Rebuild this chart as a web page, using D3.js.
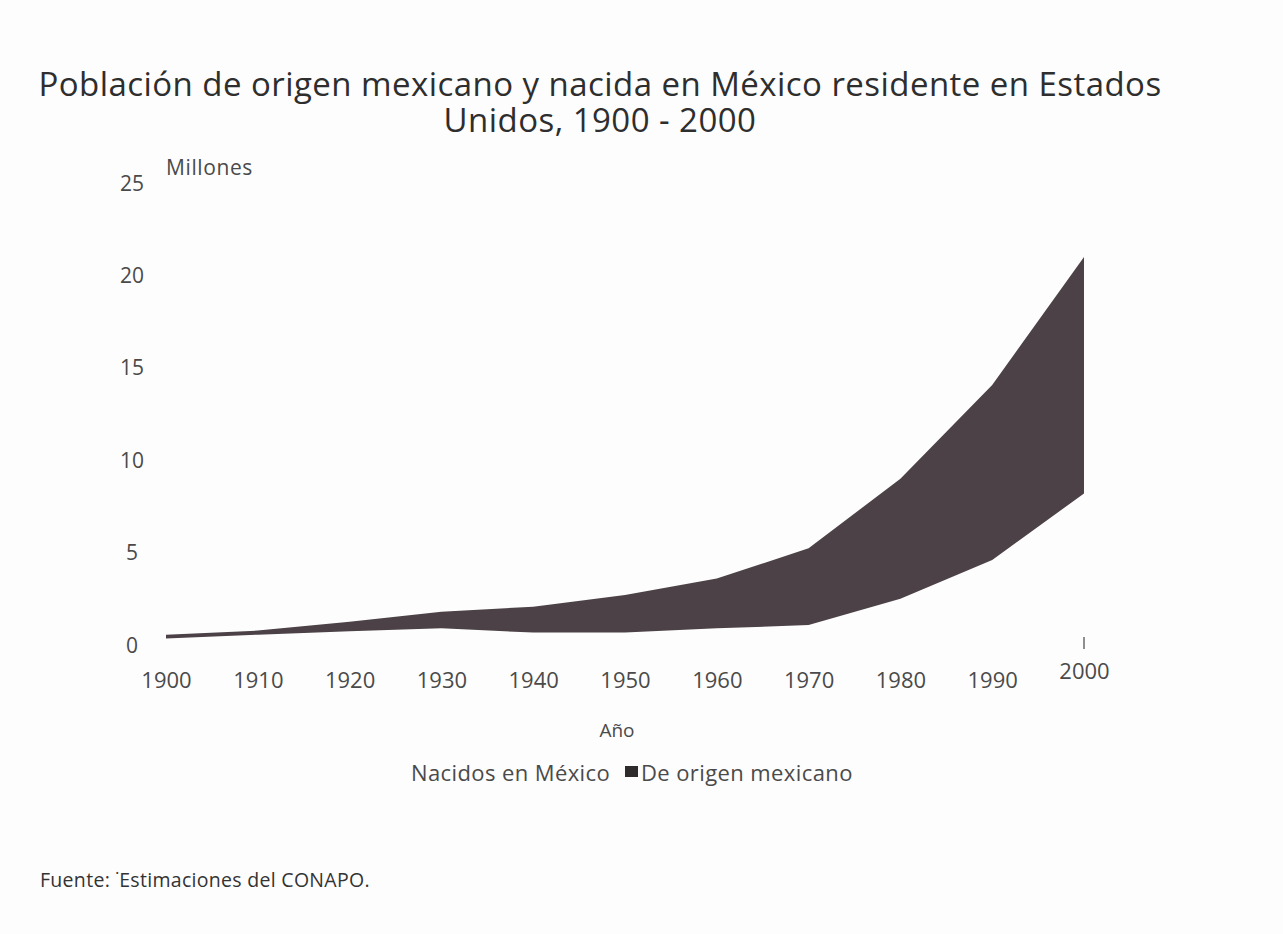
<!DOCTYPE html>
<html>
<head>
<meta charset="utf-8">
<script src="https://cdn.jsdelivr.net/npm/d3@7"></script>
<style>
  html, body { margin: 0; padding: 0; background: #fdfdfd; }
  svg { display: block; }
  text { font-family: "Open Sans", Lato, sans-serif; fill: #3a3a3a; }
</style>
</head>
<body>
<svg id="chart" width="1283" height="934"></svg>
<script>
// Census years and population estimates (millions)
const years = [1900, 1910, 1920, 1930, 1940, 1950, 1960, 1970, 1980, 1990, 2000];
const nacidosEnMexico = [0.35, 0.56, 0.75, 0.9, 0.67, 0.67, 0.9, 1.08, 2.5, 4.6, 8.2];
const deOrigenMexicano = [0.55, 0.78, 1.26, 1.8, 2.07, 2.7, 3.6, 5.23, 9.0, 14.07, 21.0];
const yTicks = [0, 5, 10, 15, 20, 25];
const xTickLabels = ["1900", "1910", "1920", "1930", "1940", "1950", "1960", "1970", "1980", "1990", "2000"];
const titleLines = ["Población de origen mexicano y nacida en México residente en Estados", "Unidos, 1900 - 2000"];

const svg = d3.select("#chart");
const inkDark = "#4b4146";
const labelInk = "#4a4a4a";

const x = d3.scaleLinear().domain([1900, 2000]).range([166, 1084]);
const y = d3.scaleLinear().domain([0, 25]).range([645, 183]);

const rows = years.map((yr, i) => ({ year: yr, low: nacidosEnMexico[i], high: deOrigenMexicano[i] }));

// Title, two centred lines in one text block
const title = svg.append("text")
  .attr("text-anchor", "middle")
  .style("font-size", "33px")
  .style("letter-spacing", "0.45px")
  .style("fill", "#2e2e2e");
title.selectAll("tspan")
  .data(titleLines)
  .join("tspan")
  .attr("x", 600)
  .attr("y", (d, i) => 96 + i * 36)
  .text(d => d);

// Band between Mexican-born and total Mexican-origin population
const band = d3.area()
  .x(d => x(d.year))
  .y0(d => y(d.low))
  .y1(d => y(d.high))
  .curve(d3.curveLinear);

svg.append("path")
  .datum(rows)
  .attr("d", band)
  .attr("fill", inkDark);

// Y axis labels (no axis line)
const yAxis = d3.axisLeft(y).tickValues(yTicks).tickSize(0).tickPadding(0);
const gy = svg.append("g").attr("transform", "translate(132,0)").call(yAxis);
gy.select(".domain").remove();
gy.selectAll("text")
  .attr("text-anchor", "middle")
  .attr("x", 0)
  .attr("dy", "0.34em")
  .style("font-size", "21px").style("fill", labelInk)
  .style("font-family", "'Open Sans', sans-serif");

svg.append("text")
  .attr("x", 166).attr("y", 175)
  .style("font-size", "21px").style("letter-spacing", "0.6px").style("fill", labelInk)
  .text("Millones");

// X axis labels (no axis line); the last label sits a little higher with a tick mark
const xAxis = d3.axisBottom(x).tickValues(years).tickSize(0).tickPadding(0)
  .tickFormat((d, i) => xTickLabels[i]);
const gx = svg.append("g").attr("transform", "translate(0,680)").call(xAxis);
gx.select(".domain").remove();
gx.selectAll("text")
  .attr("y", 0)
  .attr("dy", d => d === 2000 ? "-0.05em" : "0.36em")
  .style("font-size", "22px").style("fill", labelInk)
  .style("font-family", "'Open Sans', sans-serif");

svg.append("line")
  .attr("x1", x(2000)).attr("x2", x(2000))
  .attr("y1", 637).attr("y2", 649)
  .attr("stroke", "#555").attr("stroke-width", 1.3);

svg.append("text")
  .attr("x", 617).attr("y", 737)
  .attr("text-anchor", "middle")
  .style("font-size", "19px").style("fill", labelInk)
  .text("Año");

// Legend
const legend = svg.append("g").attr("transform", "translate(0,781)")
  .style("font-size", "22px").style("letter-spacing", "0.4px");
legend.append("text")
  .attr("x", 411).attr("y", 0)
  .style("fill", labelInk)
  .text("Nacidos en México");
legend.append("rect")
  .attr("x", 625).attr("y", -15).attr("width", 13).attr("height", 11)
  .attr("fill", "#2f2a2c");
legend.append("text")
  .attr("x", 641).attr("y", 0)
  .style("fill", labelInk)
  .text("De origen mexicano");

// Source note
svg.append("text")
  .attr("x", 40).attr("y", 887)
  .style("font-size", "19.5px").style("letter-spacing", "0.3px").style("fill", "#333")
  .text("Fuente: ˙Estimaciones del CONAPO.");
</script>
</body>
</html>
